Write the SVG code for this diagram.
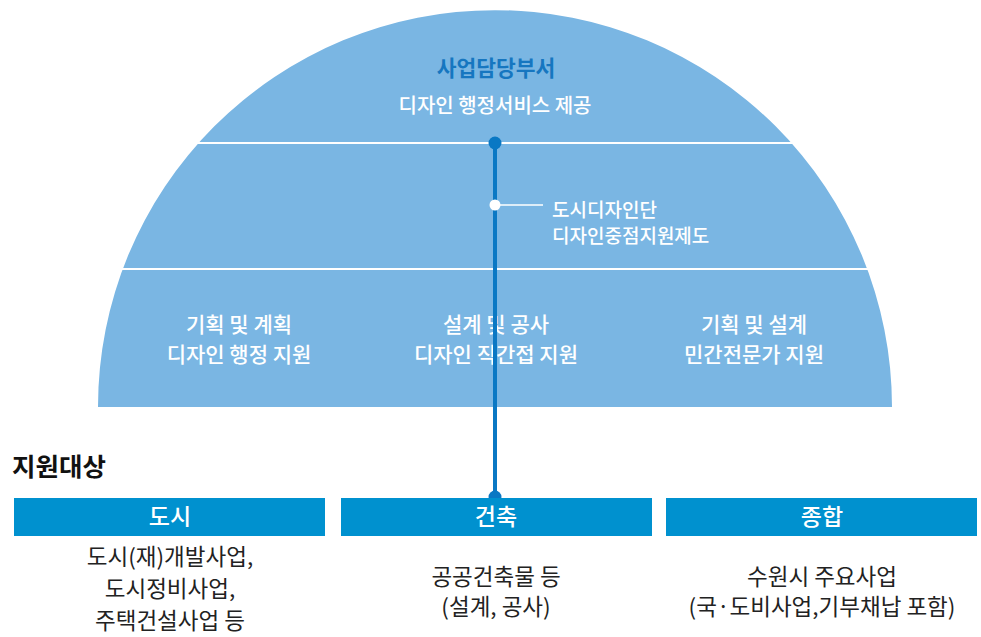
<svg xmlns="http://www.w3.org/2000/svg" width="981" height="637" viewBox="0 0 981 637">
<style>
text{font-family:"Noto Sans CJK KR","Noto Sans",sans-serif}
.w{fill:#fff;font-size:21px;font-weight:500;text-anchor:middle}
.m{fill:#fff;font-size:19px;font-weight:500}
.bar{fill:#0091cf}
.bt{fill:#fff;font-size:23px;font-weight:500;text-anchor:middle}
.d{fill:#222;font-size:22.5px;text-anchor:middle}
.sep{stroke:#fff;stroke-width:2}
</style>
<g id="dome">
<path d="M98 407 A397 397 0 0 1 892 407 Z" fill="#7ab6e3"/>
<line class="sep" x1="195" y1="143" x2="797" y2="143"/>
<line class="sep" x1="118" y1="269" x2="872" y2="269"/>
</g>
<g id="top">
<text x="496" y="76" style="fill:#1676c0;font-size:21.5px;font-weight:700;text-anchor:middle">사업담당부서</text>
<text x="495" y="113" style="fill:#fff;font-size:20px;font-weight:500;text-anchor:middle">디자인 행정서비스 제공</text>
</g>
<g id="mid">
<text class="m" x="552" y="217">도시디자인단</text>
<text class="m" x="552" y="243">디자인중점지원제도</text>
</g>
<g id="s1"><text class="w" x="239" y="332">기획 및 계획</text><text class="w" x="239" y="362">디자인 행정 지원</text></g>
<g id="s2"><text class="w" x="496" y="332">설계 및 공사</text><text class="w" x="496" y="362">디자인 직간접 지원</text></g>
<g id="s3"><text class="w" x="754" y="332">기획 및 설계</text><text class="w" x="754" y="362">민간전문가 지원</text></g>
<g id="connectors">
<line x1="495" y1="143" x2="495" y2="497" stroke="#0a78c4" stroke-width="4"/>
<line x1="495" y1="205" x2="543" y2="205" stroke="#fff" stroke-width="1.5"/>
<circle cx="495" cy="143" r="6.5" fill="#0a78c4"/>
<circle cx="495" cy="205" r="5.5" fill="#fff"/>
<circle cx="495" cy="497" r="6.5" fill="#0a78c4"/>
</g>
<text x="12" y="476" style="fill:#111;font-size:25.5px;font-weight:700">지원대상</text>
<g id="b1"><rect class="bar" x="14" y="498" width="311" height="38"/><text class="bt" x="170" y="525">도시</text>
<text class="d" x="170" y="565">도시(재)개발사업,</text><text class="d" x="170" y="597">도시정비사업,</text><text class="d" x="170" y="629">주택건설사업 등</text></g>
<g id="b2"><rect class="bar" x="341" y="498" width="311" height="38"/><text class="bt" x="496" y="525">건축</text>
<text class="d" x="496" y="585">공공건축물 등</text><text class="d" x="496" y="615">(설계, 공사)</text></g>
<g id="b3"><rect class="bar" x="666" y="498" width="311" height="38"/><text class="bt" x="822" y="525">종합</text>
<text class="d" x="822" y="585">수원시 주요사업</text><text class="d" x="822" y="615">(국·도비사업,기부채납 포함)</text></g>
</svg>
